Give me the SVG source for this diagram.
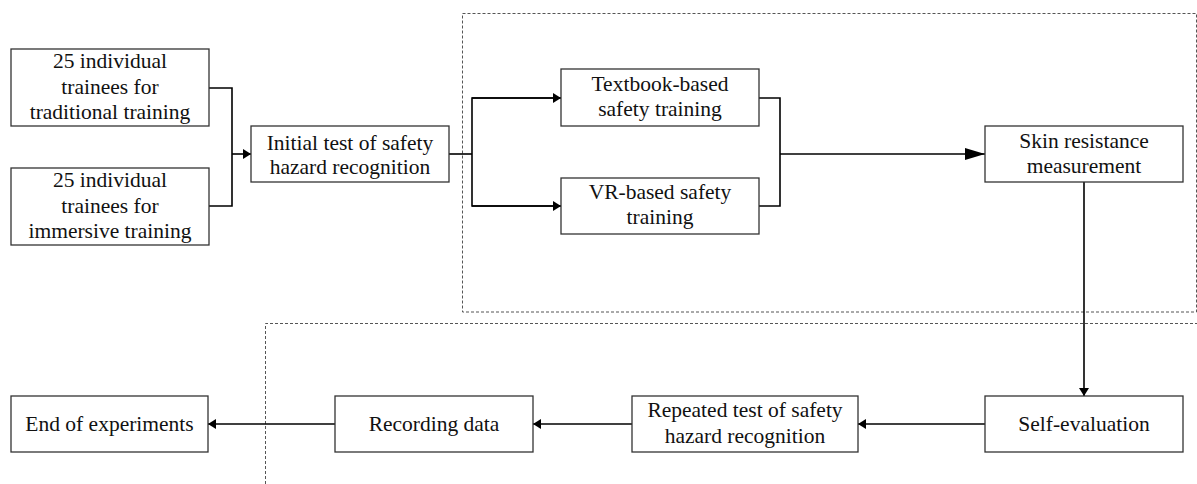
<svg xmlns="http://www.w3.org/2000/svg" width="1197" height="484" viewBox="0 0 1197 484">
<defs>
<style>
.box{fill:#fff;stroke:#333;stroke-width:1.3}
.t{font-family:"Liberation Serif","Times New Roman",serif;font-size:21.5px;fill:#111;text-anchor:middle}
.c{fill:none;stroke:#000;stroke-width:1.6}
.d{fill:none;stroke:#555;stroke-width:1;stroke-dasharray:3,2}
</style>
<marker id="a" markerWidth="8" markerHeight="10" refX="8" refY="5" orient="auto" markerUnits="userSpaceOnUse"><path d="M0,0 L8,5 L0,10 Z" fill="#000"/></marker>
<marker id="b" markerWidth="20" markerHeight="12" refX="20" refY="6" orient="auto" markerUnits="userSpaceOnUse"><path d="M0,0 L20,6 L0,12 Z" fill="#000"/></marker>
</defs>
<rect width="1197" height="484" fill="#fff"/>
<g id="frames">
<rect class="d" x="462.5" y="13.5" width="734" height="298.5"/>
<path class="d" d="M265.5,484 V323.5 H1197"/>
</g>
<g id="connectors">
<path class="c" d="M209,88 H232 V206 H209"/>
<path class="c" d="M232,154 H251" marker-end="url(#a)"/>
<path class="c" d="M449,154 H472"/>
<path class="c" d="M561,98 H472 V206 H561" />
<path class="c" d="M472,98 H561" marker-end="url(#a)"/>
<path class="c" d="M472,206 H561" marker-end="url(#a)"/>
<path class="c" d="M759,98 H780 V206 H759"/>
<path class="c" d="M780,154 H985" marker-end="url(#b)"/>
<path class="c" d="M1084,182 V396" marker-end="url(#a)"/>
<path class="c" d="M985,424 H858" marker-end="url(#a)"/>
<path class="c" d="M632,424 H533" marker-end="url(#a)"/>
<path class="c" d="M335,424 H208" marker-end="url(#a)"/>
</g>
<g id="n1"><rect class="box" x="11" y="49" width="198" height="77"/>
<text class="t" x="110" y="68">25 individual</text><text class="t" x="110" y="93.5">trainees for</text><text class="t" x="110" y="119">traditional training</text></g>
<g id="n2"><rect class="box" x="11" y="168" width="198" height="77"/>
<text class="t" x="110" y="187">25 individual</text><text class="t" x="110" y="212.5">trainees for</text><text class="t" x="110" y="238">immersive training</text></g>
<g id="n3"><rect class="box" x="251" y="126" width="198" height="56"/>
<text class="t" x="350" y="150">Initial test of safety</text><text class="t" x="350" y="174">hazard recognition</text></g>
<g id="n4"><rect class="box" x="561" y="69" width="198" height="57"/>
<text class="t" x="660" y="91">Textbook-based</text><text class="t" x="660" y="116">safety training</text></g>
<g id="n5"><rect class="box" x="561" y="178" width="198" height="56"/>
<text class="t" x="660" y="199">VR-based safety</text><text class="t" x="660" y="224">training</text></g>
<g id="n6"><rect class="box" x="985" y="126" width="198" height="56"/>
<text class="t" x="1084" y="148">Skin resistance</text><text class="t" x="1084" y="173">measurement</text></g>
<g id="n7"><rect class="box" x="985" y="396" width="198" height="56"/>
<text class="t" x="1084" y="431">Self-evaluation</text></g>
<g id="n8"><rect class="box" x="632" y="396" width="226" height="56"/>
<text class="t" x="745" y="417">Repeated test of safety</text><text class="t" x="745" y="443">hazard recognition</text></g>
<g id="n9"><rect class="box" x="335" y="396" width="198" height="56"/>
<text class="t" x="434" y="431">Recording data</text></g>
<g id="n10"><rect class="box" x="11" y="396" width="197" height="56"/>
<text class="t" x="109.5" y="431">End of experiments</text></g>
</svg>
